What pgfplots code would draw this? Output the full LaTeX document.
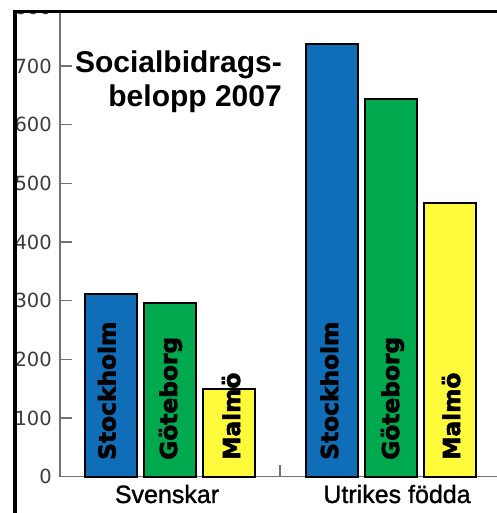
\documentclass[border=0pt]{standalone}
\usepackage{pgfplots}
\pgfplotsset{compat=1.18}
\usepackage{fontspec}
\setmainfont{Liberation Sans}
\newfontfamily\dejavu{DejaVu Sans}
\newfontfamily\heavy{DejaVu Sans Bold}[FakeBold=2.5]
\newfontfamily\medium{Liberation Sans}[FakeBold=1.2]
\definecolor{barblue}{RGB}{16,110,184}
\definecolor{bargreen}{RGB}{0,168,78}
\definecolor{baryellow}{RGB}{255,250,60}
\definecolor{axisgray}{RGB}{115,115,115}
\definecolor{labelgray}{RGB}{60,60,60}
\tikzset{barlab/.style={rotate=90, anchor=base west, inner sep=0pt, font=\heavy\fontsize{23.3bp}{28bp}\selectfont}}
\begin{document}
\begin{tikzpicture}[x=1bp,y=1bp]
\begin{scope}
\clip (-60,-36.3) rectangle (437,465.4);
\begin{axis}[
  at={(0,0)}, anchor=south west,
  scale only axis, width=437bp, height=469.36bp,
  xmin=0, xmax=437, ymin=0, ymax=800,
  axis lines*=left,
  axis line style={draw=axisgray, line width=1.5bp},
  clip=false,
  ytick={0,100,...,800},
  tick align=inside,
  major tick length=12bp,
  tick style={draw=axisgray, line width=1.5bp},
  xtick={220}, xticklabels={},
  extra x ticks={107,337},
  extra x tick labels={Svenskar,Utrikes födda},
  extra x tick style={major tick length=0pt},
  xticklabel style={anchor=base, inner sep=0pt, yshift=-26.3bp, font=\medium\fontsize{25bp}{30bp}\selectfont},
  yticklabel style={anchor=east, inner sep=0pt, xshift=-8bp, text=labelgray, font=\dejavu\fontsize{19.5bp}{22bp}\selectfont},
  /pgf/number format/assume math mode=true,
]
\addplot[ybar, bar width=52bp, bar shift=0pt, fill=barblue, draw=black, line width=2bp] coordinates {(50.5,311) (271.5,737)};
\addplot[ybar, bar width=52bp, bar shift=0pt, fill=bargreen, draw=black, line width=2bp] coordinates {(109.5,296) (330.5,644)};
\addplot[ybar, bar width=52bp, bar shift=0pt, fill=baryellow, draw=black, line width=2bp] coordinates {(169,149) (389.5,467)};
\node[barlab] at (axis cs:55.5,28.5) {Stockholm};
\node[barlab] at (axis cs:117,28.5) {Göteborg};
\node[barlab] at (axis cs:180,28.5) {Malmö};
\node[barlab] at (axis cs:278,28.5) {Stockholm};
\node[barlab] at (axis cs:339,28.5) {Göteborg};
\node[barlab] at (axis cs:400,28.5) {Malmö};
\node[anchor=base east, inner sep=0pt, font=\bfseries\fontsize{30bp}{35bp}\selectfont] at (axis cs:222,689.3) {Socialbidrags-};
\node[anchor=base east, inner sep=0pt, font=\bfseries\fontsize{30bp}{35bp}\selectfont] at (axis cs:222,630.6) {belopp 2007};
\end{axis}
\end{scope}
\draw[black, line width=3.3bp] (-45,-36.3) -- (-45,467.1);
\draw[black, line width=2.7bp] (-46.65,465.4) -- (437,465.4);
\pgfresetboundingbox
\useasboundingbox (-60,-36.3) rectangle (437,476.7);
\end{tikzpicture}
\end{document}
